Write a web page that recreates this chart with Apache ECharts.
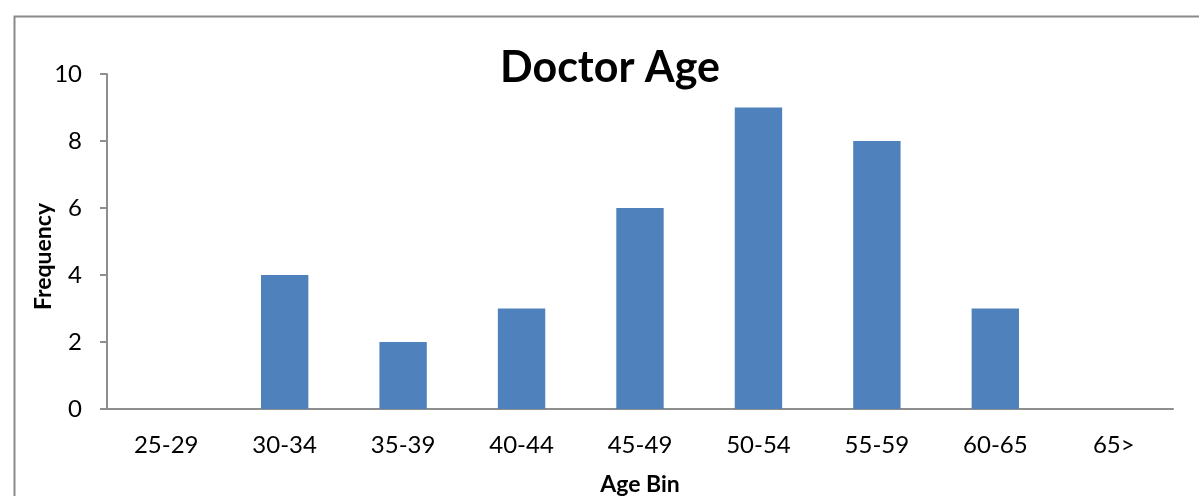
<!DOCTYPE html>
<html>
<head>
<meta charset="utf-8">
<script src="https://cdn.jsdelivr.net/npm/echarts@6/dist/echarts.min.js"></script>
<style>
  html, body { margin: 0; padding: 0; background: #fff; }
  #chart { width: 1199px; height: 496px; }
</style>
</head>
<body>
<div id="chart"></div>
<script>
// data
const ageBins = ['25-29', '30-34', '35-39', '40-44', '45-49', '50-54', '55-59', '60-65', '65>'];
const frequency = [0, 4, 2, 3, 6, 9, 8, 3, 0];
const yTicks = [0, 2, 4, 6, 8, 10];

const FONT = 'Lato, "Open Sans", sans-serif';
const AXIS_GREY = '#8e8e8e';

const chart = echarts.init(document.getElementById('chart'), null, { renderer: 'canvas' });

chart.setOption({
  backgroundColor: '#fff',
  animation: false,
  // outer frame of the chart area
  graphic: [{
    type: 'rect',
    left: 12, top: 14,
    shape: { width: 1220, height: 520 },
    style: { fill: 'none', stroke: '#8a8a8a', lineWidth: 2 },
    silent: true
  }],
  title: {
    text: 'Doctor Age',
    left: 495,
    top: 42,
    textStyle: { fontFamily: FONT, fontSize: 43, fontWeight: 'bold', color: '#000' }
  },
  // fixed plot box, don't let v6 shrink it to fit labels
  grid: { left: 107, right: 26, top: 74, bottom: 87, outerBoundsMode: 'none', containLabel: false },
  xAxis: {
    type: 'category',
    data: ageBins,
    name: 'Age Bin',
    nameLocation: 'middle',
    nameGap: 64,
    nameMoveOverlap: false,
    nameTextStyle: { fontFamily: FONT, fontSize: 23, fontWeight: 'bold', color: '#000' },
    axisLine: { lineStyle: { color: AXIS_GREY, width: 2 } },
    axisTick: { show: false },
    axisLabel: { fontFamily: FONT, fontSize: 24, color: '#000', margin: 24 }
  },
  yAxis: {
    type: 'value',
    min: yTicks[0],
    max: yTicks[yTicks.length - 1],
    interval: yTicks[1] - yTicks[0],
    name: 'Frequency',
    nameLocation: 'middle',
    nameGap: 52,
    nameMoveOverlap: false,
    nameTextStyle: { fontFamily: FONT, fontSize: 23, fontWeight: 'bold', color: '#000', padding: [0, 30, 0, 0] },
    axisLine: { show: true, lineStyle: { color: AXIS_GREY, width: 2 } },
    axisTick: { show: true, length: 7, lineStyle: { color: AXIS_GREY, width: 2 } },
    splitLine: { show: false },
    axisLabel: { fontFamily: FONT, fontSize: 24, color: '#000', margin: 25 }
  },
  series: [{
    type: 'bar',
    data: frequency,
    barWidth: '40%',
    itemStyle: { color: '#4f81bd' }
  }]
});
</script>
</body>
</html>
